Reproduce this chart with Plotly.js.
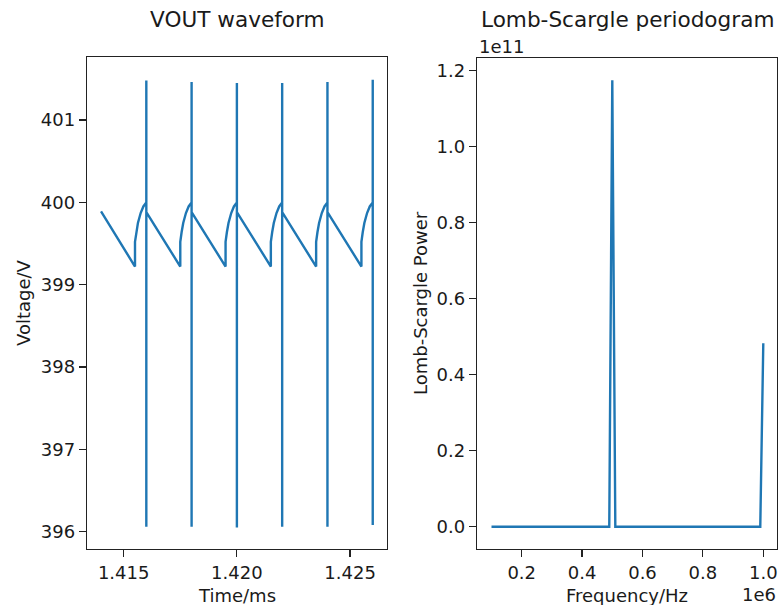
<!DOCTYPE html>
<html>
<head>
<meta charset="utf-8">
<script src="https://cdn.plot.ly/plotly-3.0.1.min.js"></script>
<style>html,body{margin:0;padding:0;background:#fff;}#chart{width:782px;height:605px;}</style>
</head>
<body>
<div id="chart"></div>
<script>
// VOUT waveform (time in ms, voltage in V)
const timeMs = [
  1.41400,
  1.41550, 1.41550, 1.41556, 1.41563, 1.41575, 1.41587, 1.41600, 1.41600, 1.41600, 1.41600,
  1.41750, 1.41750, 1.41756, 1.41763, 1.41775, 1.41787, 1.41800, 1.41800, 1.41800, 1.41800,
  1.41950, 1.41950, 1.41956, 1.41963, 1.41975, 1.41987, 1.42000, 1.42000, 1.42000, 1.42000,
  1.42150, 1.42150, 1.42156, 1.42163, 1.42175, 1.42187, 1.42200, 1.42200, 1.42200, 1.42200,
  1.42350, 1.42350, 1.42356, 1.42363, 1.42375, 1.42387, 1.42400, 1.42400, 1.42400, 1.42400,
  1.42550, 1.42550, 1.42556, 1.42563, 1.42575, 1.42587, 1.42600, 1.42600, 1.42600, 1.42600
];
const voltage = [
  399.89,
  399.22, 399.52, 399.64, 399.75, 399.87, 399.95, 400.00, 401.48, 396.06, 399.88,
  399.22, 399.52, 399.64, 399.75, 399.87, 399.95, 400.00, 401.46, 396.06, 399.88,
  399.22, 399.52, 399.64, 399.75, 399.87, 399.95, 400.00, 401.45, 396.05, 399.88,
  399.22, 399.52, 399.64, 399.75, 399.87, 399.95, 400.00, 401.45, 396.06, 399.88,
  399.22, 399.52, 399.64, 399.75, 399.87, 399.95, 400.00, 401.46, 396.06, 399.88,
  399.22, 399.52, 399.64, 399.75, 399.87, 399.95, 400.00, 401.49, 396.08, 399.88
];

// Lomb-Scargle periodogram (frequency in Hz, power)
const freqHz = [100000, 490000, 500000, 510000, 990000, 1000000];
const lsPower = [0, 0, 1.175e11, 0, 0, 0.483e11];

// tick labels
const vTicks = [396, 397, 398, 399, 400, 401];
const tTicks = [1.415, 1.420, 1.425];
const tTickText = ['1.415', '1.420', '1.425'];
const fTicks = [200000, 400000, 600000, 800000, 1000000];
const fTickText = ['0.2', '0.4', '0.6', '0.8', '1.0'];
const pTicks = [0, 0.2e11, 0.4e11, 0.6e11, 0.8e11, 1.0e11, 1.2e11];
const pTickText = ['0.0', '0.2', '0.4', '0.6', '0.8', '1.0', '1.2'];

const W = 782, H = 605;
const px = x => x / W;
const py = y => 1 - y / H;
const FONT = 'DejaVu Sans';
const BLUE = '#1f77b4';
const TICK = 18, LABEL = 18, TITLE = 21.6;

const axisCommon = {
  showline: true, linecolor: '#222', linewidth: 1.2, mirror: true,
  ticks: 'outside', ticklen: 7, tickwidth: 1.2, tickcolor: '#222',
  showgrid: false, zeroline: false,
  tickfont: {family: FONT, size: TICK, color: '#1a1a1a'}
};

const traces = [
  {x: timeMs, y: voltage, type: 'scatter', mode: 'lines', line: {color: BLUE, width: 2.4},
   xaxis: 'x', yaxis: 'y', hoverinfo: 'skip'},
  {x: freqHz, y: lsPower, type: 'scatter', mode: 'lines', line: {color: BLUE, width: 2.4},
   xaxis: 'x2', yaxis: 'y2', hoverinfo: 'skip'}
];

function ann(text, x, y, size, opts) {
  return Object.assign({text: text, x: px(x), y: py(y), xref: 'paper', yref: 'paper',
    xanchor: 'center', yanchor: 'middle', showarrow: false,
    font: {family: FONT, size: size, color: '#1a1a1a'}}, opts || {});
}

const layout = {
  width: W, height: H,
  margin: {l: 0, r: 0, t: 0, b: 0},
  paper_bgcolor: '#fff', plot_bgcolor: '#fff',
  showlegend: false,
  font: {family: FONT, color: '#1a1a1a'},
  xaxis: Object.assign({}, axisCommon, {
    domain: [px(87), px(387)], range: [1.41338, 1.42663],
    tickvals: tTicks, ticktext: tTickText, anchor: 'y'
  }),
  yaxis: Object.assign({}, axisCommon, {
    domain: [py(549), py(57)], range: [395.79, 401.765],
    tickvals: vTicks, ticktext: vTicks.map(String), anchor: 'x'
  }),
  xaxis2: Object.assign({}, axisCommon, {
    domain: [px(477), px(777)], range: [52000, 1045400],
    tickvals: fTicks, ticktext: fTickText, anchor: 'y2'
  }),
  yaxis2: Object.assign({}, axisCommon, {
    domain: [py(549), py(58)], range: [-0.0587e11, 1.2334e11],
    tickvals: pTicks, ticktext: pTickText, anchor: 'x2'
  }),
  annotations: [
    ann('VOUT waveform', 237, 19, TITLE),
    ann('Lomb-Scargle periodogram', 627, 19, TITLE),
    ann('1e11', 477, 47, TICK, {xanchor: 'left'}),
    ann('1e6', 778, 594, TICK, {xanchor: 'right'}),
    ann('Time/ms', 237, 595, LABEL),
    ann('Frequency/Hz', 627, 595, LABEL),
    ann('Voltage/V', 23, 303, LABEL, {textangle: -90}),
    ann('Lomb-Scargle Power', 420, 303, LABEL, {textangle: -90})
  ]
};

Plotly.newPlot('chart', traces, layout, {staticPlot: true, displayModeBar: false});
</script>
</body>
</html>
